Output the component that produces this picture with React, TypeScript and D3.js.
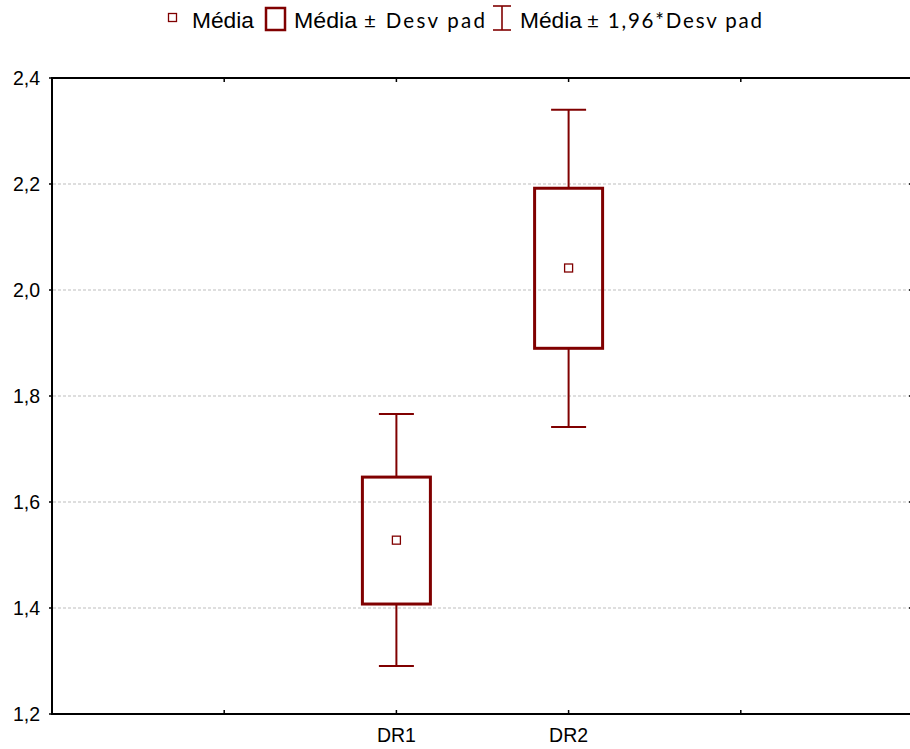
import React from "react";
import * as d3 from "d3";

const categories = ["DR1", "DR2"];
const means = [1.528, 2.0415];
const boxLow = [1.4075, 1.89];
const boxHigh = [1.647, 2.192];
const whiskLow = [1.2906, 1.7415];
const whiskHigh = [1.766, 2.34];
const yTicks = [1.2, 1.4, 1.6, 1.8, 2.0, 2.2, 2.4];
const xTickSlots = [1, 2, 3, 4];

const W = 910;
const H = 749;
const M = { left: 52, right: 913, top: 78, bottom: 714 };
const RED = "#800000";

export default function App() {
  const x = d3.scaleLinear().domain([0, 5]).range([M.left, M.right]);
  const y = d3.scaleLinear().domain([1.2, 2.4]).range([M.bottom, M.top]);
  const fmt = (v: number) => d3.format(".1f")(v).replace(".", ",");
  const boxW = 68;
  const capW = 35;
  const font = "'Liberation Sans', Arial, sans-serif";
  const font2 = "Lato, 'Open Sans', sans-serif";

  return (
    <svg
      width={W}
      height={H}
      style={{ position: "absolute", left: 0, top: 0, background: "#fff" }}
    >
      {/* legend */}
      <g>
        <rect x={168.5} y={13.5} width={8} height={8} fill="#fff" stroke={RED} strokeWidth={1.3} />
        <text x={192} y={27.5} fontFamily={font} fontSize={21.5} textLength={62} lengthAdjust="spacingAndGlyphs">Média</text>
        <rect x={266} y={8} width={19} height={22} fill="#fff" stroke={RED} strokeWidth={2.5} />
        <text x={294} y={27.5} fontFamily={font} fontSize={21.5} textLength={63} lengthAdjust="spacingAndGlyphs">Média</text>
        <text x={364} y={27.5} fontFamily={font2} fontSize={20.5} textLength={121} lengthAdjust="spacing">± Desv pad</text>
        <line x1={502} x2={502} y1={6} y2={30} stroke={RED} strokeWidth={1.6} />
        <line x1={493} x2={511} y1={6} y2={6} stroke={RED} strokeWidth={1.6} />
        <line x1={493} x2={511} y1={30} y2={30} stroke={RED} strokeWidth={1.6} />
        <text x={520} y={27.5} fontFamily={font} fontSize={21.5} textLength={62} lengthAdjust="spacingAndGlyphs">Média</text>
        <text x={587} y={27.5} fontFamily={font2} fontSize={20.5} textLength={175} lengthAdjust="spacing">± 1,96*Desv pad</text>
      </g>

      {/* grid */}
      {yTicks.slice(1, -1).map((t) => (
        <line
          key={"g" + t}
          x1={M.left + 1}
          x2={M.right - 1}
          y1={y(t)}
          y2={y(t)}
          stroke="#bdbdbd"
          strokeWidth={1}
          strokeDasharray="3,2"
        />
      ))}

      {/* frame */}
      <rect
        x={M.left}
        y={M.top}
        width={M.right - M.left}
        height={M.bottom - M.top}
        fill="none"
        stroke="#000"
        strokeWidth={2}
      />

      {/* y ticks */}
      {yTicks.map((t) => (
        <g key={"y" + t}>
          <line x1={M.left - 3} x2={M.left} y1={y(t)} y2={y(t)} stroke="#000" strokeWidth={1.5} />
          <line x1={M.right - 4} x2={M.right} y1={y(t)} y2={y(t)} stroke="#000" strokeWidth={1.5} />
          <text
            x={40}
            y={y(t)}
            textAnchor="end"
            dominantBaseline="central"
            fontFamily={font}
            fontSize={19.5}
            fill="#000"
          >
            {fmt(t)}
          </text>
        </g>
      ))}

      {/* x ticks */}
      {xTickSlots.map((s) => (
        <g key={"x" + s}>
          <line x1={x(s)} x2={x(s)} y1={M.bottom} y2={M.bottom - 4} stroke="#000" strokeWidth={1.5} />
          <line x1={x(s)} x2={x(s)} y1={M.top} y2={M.top + 4} stroke="#000" strokeWidth={1.5} />
        </g>
      ))}
      {categories.map((c, i) => (
        <text
          key={"xl" + c}
          x={x(i + 2)}
          y={735}
          textAnchor="middle"
          dominantBaseline="central"
          fontFamily={font}
          fontSize={19.5}
          fill="#000"
        >
          {c}
        </text>
      ))}

      {/* boxes */}
      {categories.map((c, i) => {
        const cx = x(i + 2);
        return (
          <g key={"b" + c}>
            <line x1={cx} x2={cx} y1={y(whiskHigh[i])} y2={y(boxHigh[i])} stroke={RED} strokeWidth={2} />
            <line x1={cx} x2={cx} y1={y(boxLow[i])} y2={y(whiskLow[i])} stroke={RED} strokeWidth={2} />
            <line x1={cx - capW / 2} x2={cx + capW / 2} y1={y(whiskHigh[i])} y2={y(whiskHigh[i])} stroke={RED} strokeWidth={2} />
            <line x1={cx - capW / 2} x2={cx + capW / 2} y1={y(whiskLow[i])} y2={y(whiskLow[i])} stroke={RED} strokeWidth={2} />
            <rect
              x={cx - boxW / 2}
              y={y(boxHigh[i])}
              width={boxW}
              height={y(boxLow[i]) - y(boxHigh[i])}
              fill="none"
              stroke={RED}
              strokeWidth={3}
            />
            <rect
              x={cx - 4}
              y={y(means[i]) - 4}
              width={8}
              height={8}
              fill="#fff"
              stroke={RED}
              strokeWidth={1.3}
            />
          </g>
        );
      })}
    </svg>
  );
}
